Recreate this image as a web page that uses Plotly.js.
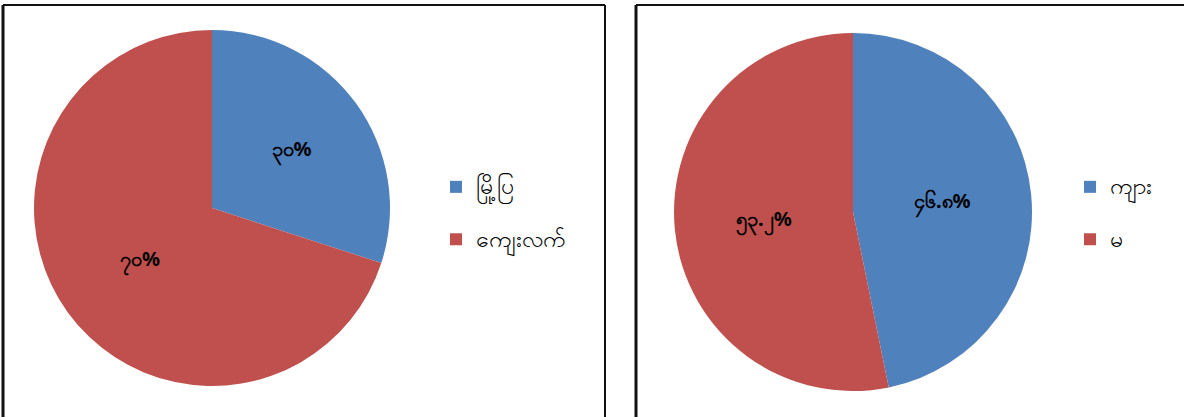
<!DOCTYPE html>
<html>
<head>
<meta charset="utf-8">
<script src="https://cdn.plot.ly/plotly-3.0.1.min.js"></script>
<style>
html,body{margin:0;padding:0;background:#fff;}
#chart{width:1184px;height:417px;}
</style>
</head>
<body>
<div id="chart"></div>
<script>
// Left pie: urban / rural
const leftLabels = ["မြို့ပြ", "ကျေးလက်"];
const leftValues = [30, 70];
const leftText = ["၃၀%", "၇၀%"];
// Right pie: male / female
const rightLabels = ["ကျား", "မ"];
const rightValues = [46.8, 53.2];
const rightText = ["၄၆.၈%", "၅၃.၂%"];
const colors = ["#4F81BD", "#C0504D"];

const W = 1184, H = 417;
function dom(cx, cy, r) {
  return {x: [(cx - r) / W, (cx + r) / W], y: [1 - (cy + r) / H, 1 - (cy - r) / H]};
}
// legend entries: slightly larger glyphs plus an empty second line so items are spaced like the original
const pad = l => l.map(s => '<span style="font-size:23px">' + s + '</span><br> ');

const common = {
  type: "pie",
  sort: false,
  direction: "clockwise",
  rotation: 0,
  textinfo: "text",
  textposition: "inside",
  insidetextorientation: "horizontal",
  textfont: {family: "Noto Sans, DejaVu Sans, sans-serif", size: 20, color: "#000", weight: "bold"},
  marker: {colors: colors, line: {width: 0}},
  hoverinfo: "none"
};

const data = [
  Object.assign({}, common, {
    labels: pad(leftLabels), values: leftValues, text: leftText,
    domain: dom(212, 208, 178), legend: "legend"
  }),
  Object.assign({}, common, {
    labels: pad(rightLabels), values: rightValues, text: rightText,
    domain: dom(853, 212, 179), legend: "legend2"
  })
];

function line(x0, y0, x1, y1, w) {
  return {type: "line", xref: "paper", yref: "paper",
    x0: x0 / W, x1: x1 / W, y0: 1 - y0 / H, y1: 1 - y1 / H,
    line: {color: "#111", width: w}};
}

const legendFont = {family: "Noto Sans, DejaVu Sans, sans-serif", size: 19, color: "#000"};

const layout = {
  width: W, height: H,
  margin: {l: 0, r: 0, t: 0, b: 0},
  paper_bgcolor: "#fff",
  showlegend: true,
  legend: {x: 436 / W, y: 1 - 168 / H, xanchor: "left", yanchor: "top", font: legendFont, bgcolor: "rgba(0,0,0,0)", itemwidth: 30, valign: "top"},
  legend2: {x: 1070 / W, y: 1 - 168 / H, xanchor: "left", yanchor: "top", font: legendFont, bgcolor: "rgba(0,0,0,0)", itemwidth: 30, valign: "top"},
  shapes: [
    line(3, 5, 3, 417, 3),
    line(3, 5, 605, 5, 2),
    line(605, 5, 605, 417, 2),
    line(636, 5, 636, 417, 3),
    line(636, 5, 1184, 5, 2)
  ]
};

Plotly.newPlot("chart", data, layout, {staticPlot: true});
</script>
</body>
</html>
